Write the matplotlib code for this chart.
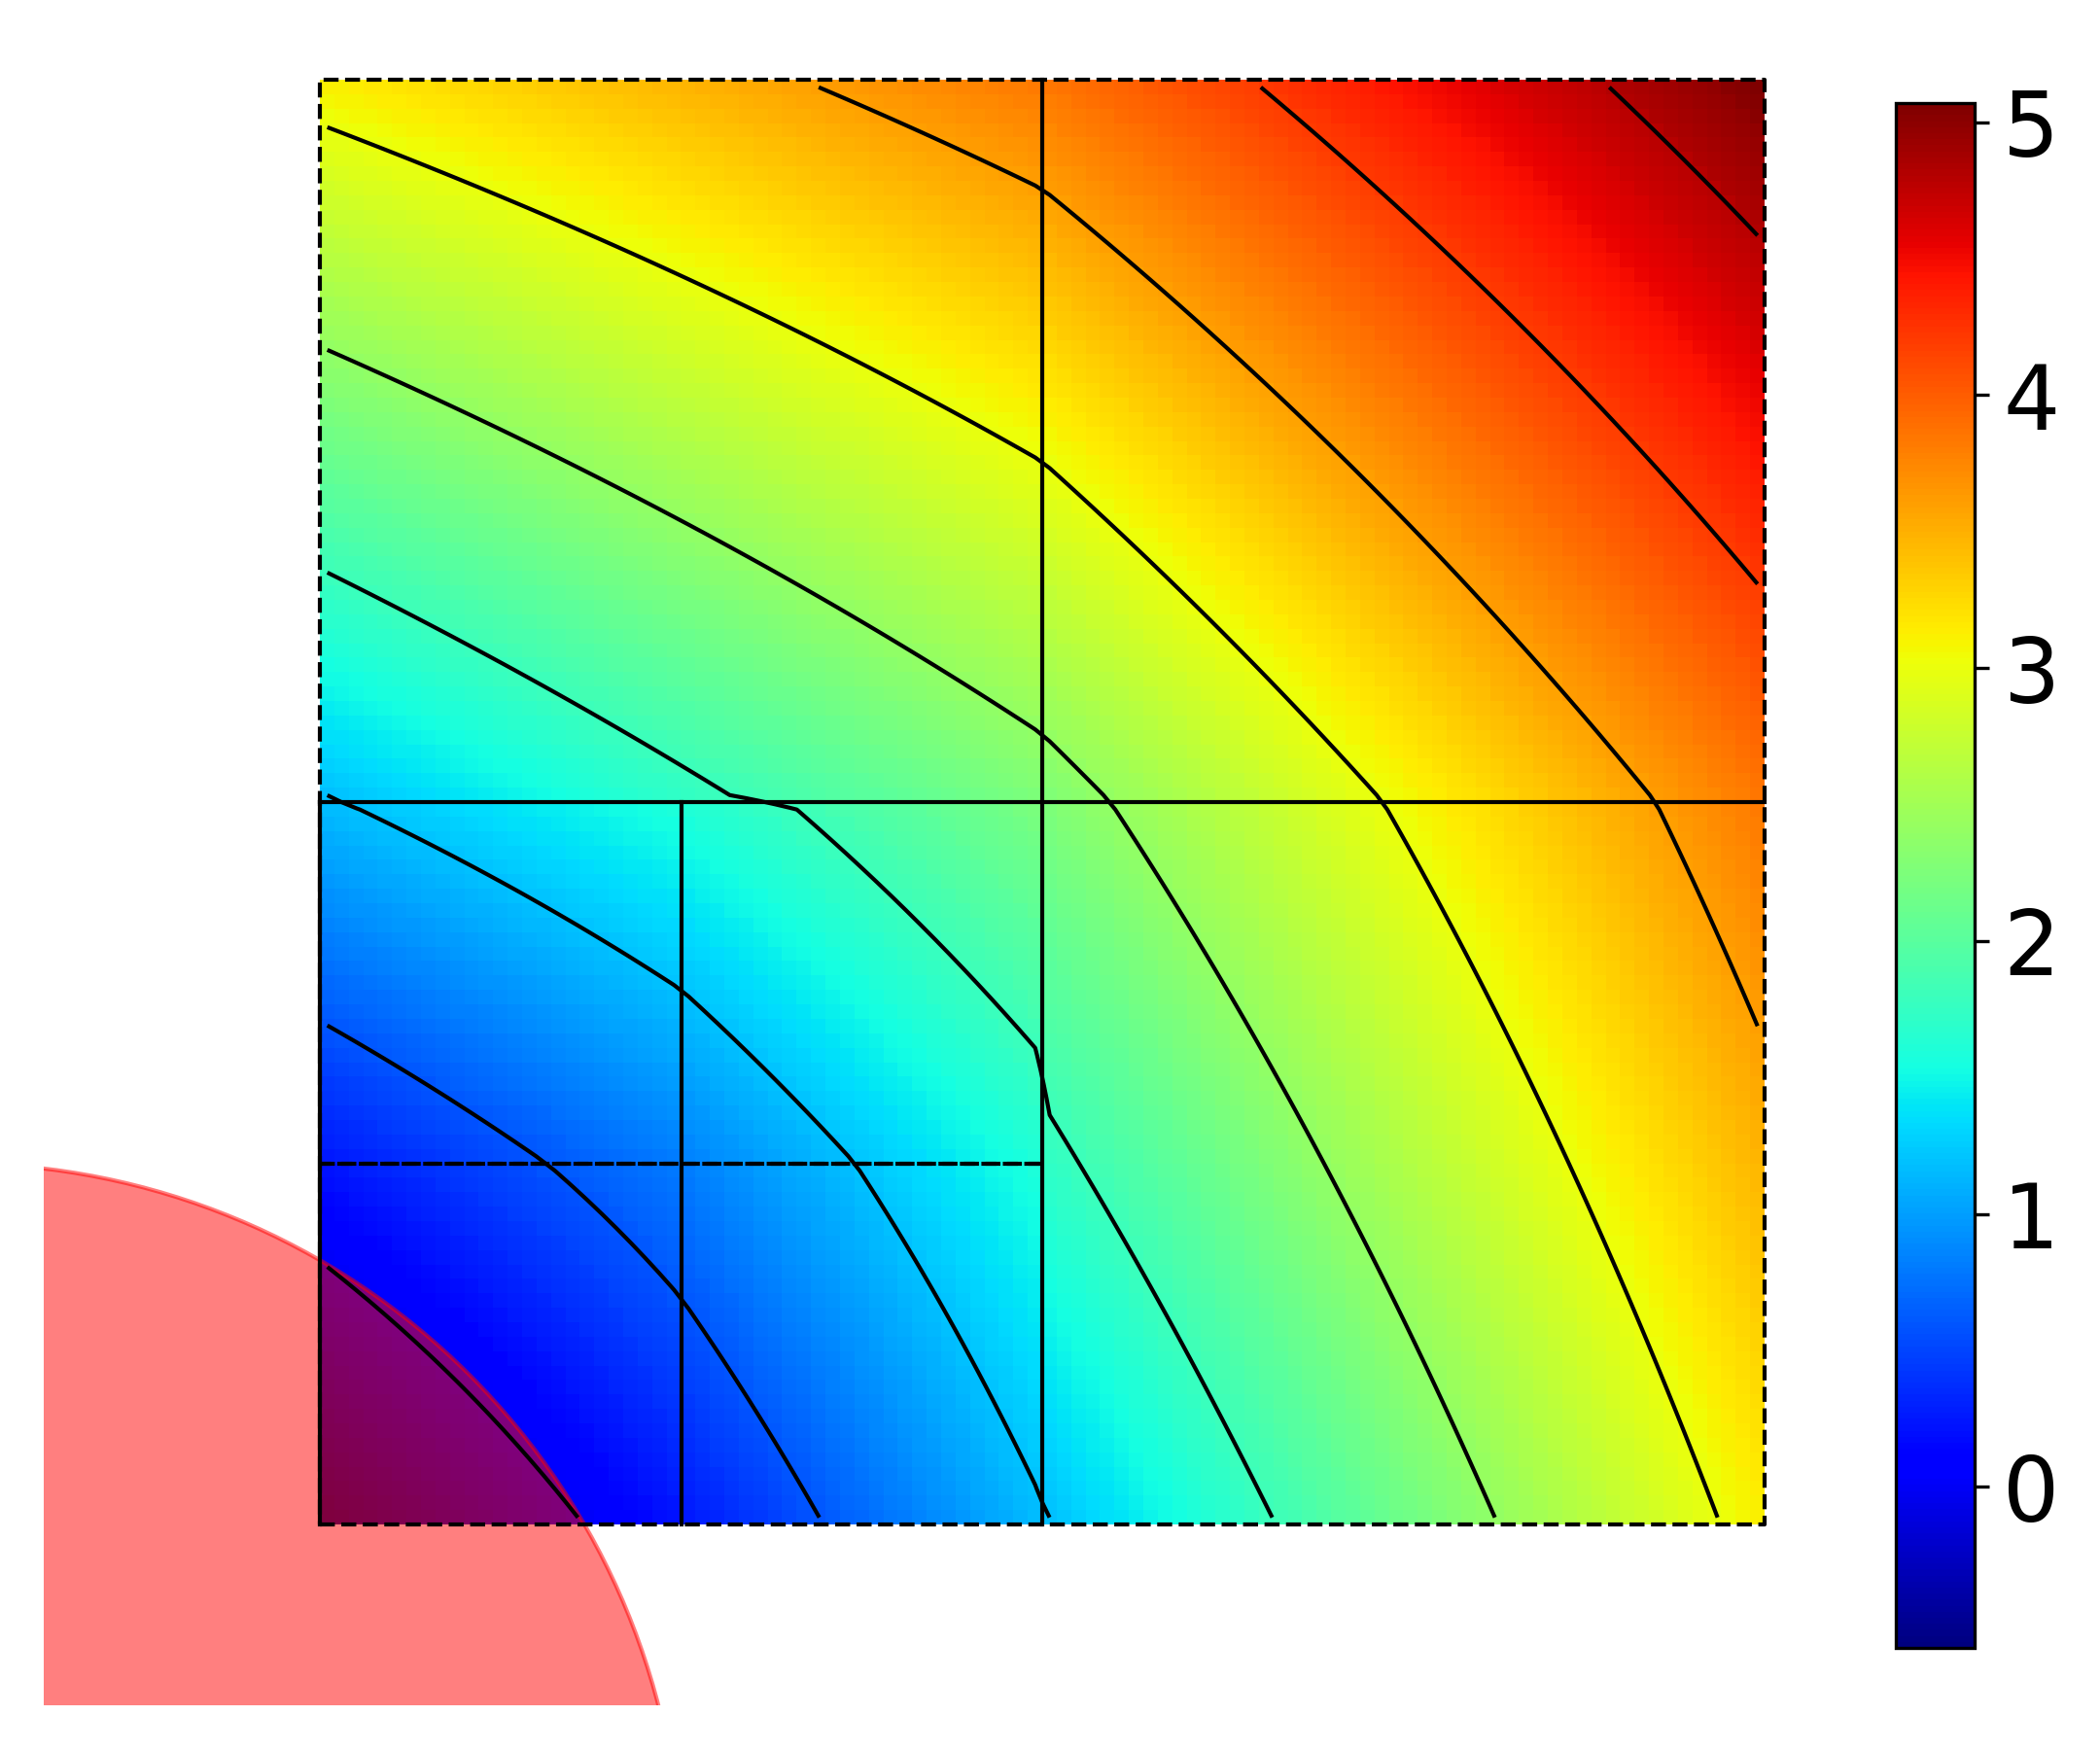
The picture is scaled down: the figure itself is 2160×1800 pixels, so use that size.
import numpy as np
import matplotlib
matplotlib.use("Agg")
import matplotlib.pyplot as plt
from matplotlib.patches import Circle

# mesh: coarse cells of 0.5, bottom-left quarter refined to 0.25
coarse_x = [0.0, 0.5, 1.0]
fine_x = [0.0, 0.25, 0.5]

# nodal values (rows are y, columns are x)
coarse_nodes = np.array([
    [-0.62, 1.17, 3.12],
    [1.17, 2.25, 3.84],
    [3.12, 3.84, 5.08],
])
# the 1.61 entries are the hanging nodes on the coarse/fine interface
fine_nodes = np.array([
    [-0.62, 0.23, 1.17],
    [0.23, 0.82, 1.61],
    [1.17, 1.61, 2.25],
])

levels = [0.0, 0.6, 1.2, 1.8, 2.4, 3.0, 3.6, 4.2, 4.8]
cbar_ticks = [0, 1, 2, 3, 4, 5]
vmin, vmax = -0.59, 5.07
n_pix = 100

hole_center = (-0.25, -0.25)
hole_radius = 0.5


def q1_field(x, y):
    # bilinear interpolation cell by cell
    fine = (x < fine_x[-1]) & (y < fine_x[-1])
    out = np.zeros_like(x)
    for mask, edges, nodes in [(fine, fine_x, fine_nodes), (~fine, coarse_x, coarse_nodes)]:
        h = edges[1] - edges[0]
        xs, ys = x[mask], y[mask]
        i = np.clip(((xs - edges[0]) // h).astype(int), 0, len(edges) - 2)
        j = np.clip(((ys - edges[0]) // h).astype(int), 0, len(edges) - 2)
        s = (xs - edges[0]) / h - i
        t = (ys - edges[0]) / h - j
        out[mask] = ((1 - s) * (1 - t) * nodes[j, i] + s * (1 - t) * nodes[j, i + 1]
                     + (1 - s) * t * nodes[j + 1, i] + s * t * nodes[j + 1, i + 1])
    return out


lo, hi = coarse_x[0], coarse_x[-1]
xc = lo + (np.arange(n_pix) + 0.5) * (hi - lo) / n_pix
X, Y = np.meshgrid(xc, xc)
Z = q1_field(X, Y)

fig = plt.figure(figsize=(7.2, 6), dpi=300)
ax = fig.add_axes([0.02083, 0.02539, 0.85394, 0.97017])
ax.set_xlim(-0.1913, 1.05)
ax.set_ylim(-0.1252, 1.05)
ax.axis('off')

im = ax.imshow(Z, origin='lower', extent=[lo, hi, lo, hi], cmap='jet',
               interpolation='nearest', vmin=vmin, vmax=vmax, zorder=0)

ax.add_patch(Circle(hole_center, hole_radius, color='r', alpha=0.5, zorder=1))

ax.contour(xc, xc, Z, levels=levels, colors='k', linewidths=1.0, zorder=3)

# mesh lines
lw = 1.0
mid = coarse_x[1]
ax.plot([lo, hi], [mid, mid], 'k-', lw=lw, zorder=4)
ax.plot([mid, mid], [lo, hi], 'k-', lw=lw, zorder=4)
f_top = fine_x[-1]
ax.plot([fine_x[1], fine_x[1]], [lo, f_top], 'k-', lw=lw, zorder=4)
ax.plot([lo, lo], [lo, f_top], 'k-', lw=lw, zorder=4)
for off in (0.0, 1.0):
    ax.plot([lo, f_top], [fine_x[1], fine_x[1]], color='k', lw=lw,
            linestyle=(off, (3.7, 1.6)), zorder=4)
ax.plot([lo, hi, hi, lo, lo], [lo, lo, hi, hi, lo], 'k--', lw=lw, zorder=5)

cax = fig.add_axes([0.9028, 0.0583, 0.0375, 0.8828])
cb = fig.colorbar(im, cax=cax, ticks=cbar_ticks)
cax.tick_params(labelsize=22)

fig.savefig('out.png', dpi=300)
